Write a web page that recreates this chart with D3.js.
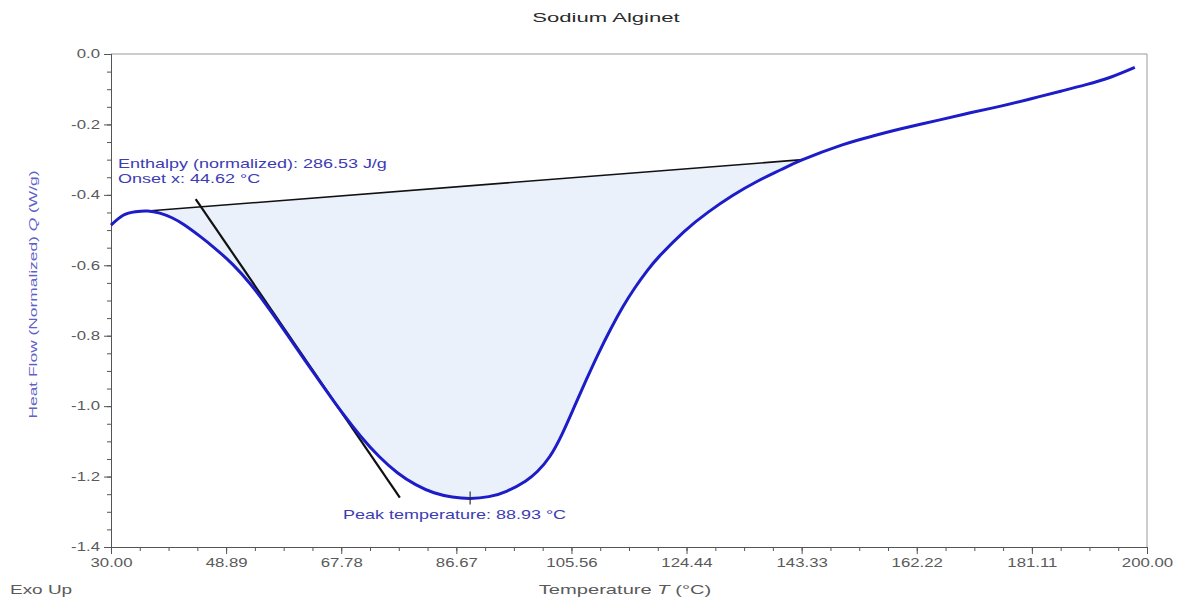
<!DOCTYPE html>
<html>
<head>
<meta charset="utf-8">
<script src="https://cdn.jsdelivr.net/npm/d3@7"></script>
<style>
  body { margin: 0; background: #fff; }
  text { font-family: "Liberation Sans", Arial, sans-serif; }
</style>
</head>
<body>
<svg id="chart" width="1183" height="599"></svg>
<script>
// DSC scan of sodium alginate: normalized heat flow vs. temperature
const temperature = [30, 32, 34, 36, 38, 40, 42, 44.62, 47, 50, 53, 56, 59, 62, 65, 68, 71, 74, 77, 80, 83, 86, 88.93,
                     92, 95, 98, 100, 102, 104, 106, 108, 110, 112, 114, 116, 118, 120, 124, 128, 132, 136, 140, 143.5,
                     150, 155, 160, 166, 171, 176, 181, 186, 190, 194, 198];
const heatFlow = [-0.486, -0.458, -0.448, -0.446, -0.452, -0.465, -0.485, -0.518, -0.551, -0.598, -0.656, -0.725, -0.799,
                  -0.874, -0.948, -1.02, -1.086, -1.143, -1.189, -1.223, -1.246, -1.258, -1.262,
                  -1.257, -1.241, -1.213, -1.185, -1.143, -1.08, -1.003, -0.925, -0.85, -0.781, -0.718, -0.663, -0.615,
                  -0.574, -0.505, -0.449, -0.402, -0.362, -0.328, -0.3,
                  -0.258, -0.233, -0.211, -0.187, -0.167, -0.148, -0.127, -0.105, -0.087, -0.066, -0.038];

// Integration baseline and onset tangent (temperature, value pairs)
const baselineT = [36, 143.5];
const baselineV = [-0.446, -0.3];
const tangentT = [43.9, 77.4];
const tangentV = [-0.412, -1.26];

const onsetT = 44.62;
const peakT = 88.93;
const peakV = -1.262;
const enthalpy = 286.53;

const xTickLabels = ["30.00", "48.89", "67.78", "86.67", "105.56", "124.44", "143.33", "162.22", "181.11", "200.00"];
const yTickLabels = ["0.0", "-0.2", "-0.4", "-0.6", "-0.8", "-1.0", "-1.2", "-1.4"];

const svg = d3.select("#chart");
const plot = { left: 111, right: 1147, top: 54, bottom: 547 };
const SX = 1.4; // horizontal stretch of the lettering

const x = d3.scaleLinear().domain([30, 200]).range([plot.left, plot.right]);
const y = d3.scaleLinear().domain([-1.4, 0]).range([plot.bottom, plot.top]);

const axisColor = "#555";
const labelColor = "#5a5a5a";
const blueText = "#3c3cb4";
const smooth = d3.curveNatural;

// shaded enthalpy region between curve and baseline
const baseAt = t => baselineV[0] + (t - baselineT[0]) * (baselineV[1] - baselineV[0]) / (baselineT[1] - baselineT[0]);
const region = temperature.map((t, i) => ({ t, v: heatFlow[i] }))
  .filter(d => d.t >= baselineT[0] && d.t <= baselineT[1]);
svg.append("path")
  .datum(region)
  .attr("d", d3.area().x(d => x(d.t)).y0(d => y(baseAt(d.t))).y1(d => y(d.v)).curve(smooth))
  .attr("fill", "#eaf1fb");

// frame: top and right edges
svg.append("line").attr("x1", plot.left).attr("x2", plot.right).attr("y1", plot.top).attr("y2", plot.top)
  .attr("stroke", "#999").attr("stroke-width", 1);
svg.append("line").attr("x1", plot.right).attr("x2", plot.right).attr("y1", plot.top).attr("y2", plot.bottom)
  .attr("stroke", "#999").attr("stroke-width", 1);

// minor ticks
const xMinor = d3.range(0, 37).map(i => 30 + i * 170 / 36);
const yMinor = d3.range(0, 29).map(i => -1.4 + i * 0.05);
const gx = svg.append("g").attr("transform", `translate(0,${plot.bottom})`);
gx.call(d3.axisBottom(x).tickValues(xMinor).tickSize(4).tickFormat(""));
const gy = svg.append("g").attr("transform", `translate(${plot.left},0)`);
gy.call(d3.axisLeft(y).tickValues(yMinor).tickSize(4).tickFormat(""));

// major ticks with labels
const xMajor = xTickLabels.map(Number);
const yMajor = yTickLabels.map(Number);
const gxM = svg.append("g").attr("transform", `translate(0,${plot.bottom})`)
  .call(d3.axisBottom(x).tickValues(xMajor).tickSize(7).tickPadding(4)
    .tickFormat((d, i) => xTickLabels[i]));
const gyM = svg.append("g").attr("transform", `translate(${plot.left},0)`)
  .call(d3.axisLeft(y).tickValues(yMajor).tickSize(7).tickPadding(4)
    .tickFormat((d, i) => yTickLabels[i]));

[gx, gy, gxM, gyM].forEach(g => {
  g.select(".domain").attr("stroke", axisColor);
  g.selectAll(".tick line").attr("stroke", axisColor);
  g.selectAll(".tick text").attr("fill", labelColor).attr("font-size", 12)
    .style("font-family", '"Liberation Sans", Arial, sans-serif');
});
gxM.selectAll(".tick text").attr("transform", `scale(${SX},1)`);
gyM.selectAll(".tick text").each(function () {
  const t = d3.select(this);
  const xx = +t.attr("x");
  t.attr("x", xx / SX).attr("transform", `scale(${SX},1)`);
});

// helper for horizontally stretched text
function label(px, py, str, opts = {}) {
  const t = svg.append("text")
    .attr("transform", `translate(${px},${py}) scale(${opts.sx || SX},1)`)
    .attr("font-size", opts.size || 12)
    .attr("fill", opts.fill || labelColor)
    .attr("text-anchor", opts.anchor || "start");
  if (opts.weight) t.attr("font-weight", opts.weight);
  return t.text(str);
}

// baseline and onset tangent
svg.append("line")
  .attr("x1", x(baselineT[0])).attr("y1", y(baselineV[0]))
  .attr("x2", x(baselineT[1])).attr("y2", y(baselineV[1]))
  .attr("stroke", "#111").attr("stroke-width", 1.6);
svg.append("line")
  .attr("x1", x(tangentT[0])).attr("y1", y(tangentV[0]))
  .attr("x2", x(tangentT[1])).attr("y2", y(tangentV[1]))
  .attr("stroke", "#111").attr("stroke-width", 2.2);

// heat flow curve
svg.append("path")
  .datum(temperature.map((t, i) => ({ t, v: heatFlow[i] })))
  .attr("d", d3.line().x(d => x(d.t)).y(d => y(d.v)).curve(smooth))
  .attr("fill", "none")
  .attr("stroke", "#1c1cc8")
  .attr("stroke-width", 3);

// peak marker
svg.append("line")
  .attr("x1", x(peakT)).attr("x2", x(peakT))
  .attr("y1", y(peakV) - 7).attr("y2", y(peakV) + 6)
  .attr("stroke", "#333").attr("stroke-width", 1.2);

// annotations
label(118, 168, `Enthalpy (normalized): ${enthalpy.toFixed(2)} J/g`, { fill: blueText, sx: 1.5 });
label(118, 183, `Onset x: ${onsetT.toFixed(2)} °C`, { fill: blueText, sx: 1.5 });
label(343, 519, `Peak temperature: ${peakT.toFixed(2)} °C`, { fill: blueText, sx: 1.5 });

// titles
label(606, 22, "Sodium Alginet", { size: 13, fill: "#2a2a2a", anchor: "middle", sx: 1.7 });
const xt = svg.append("text")
  .attr("transform", `translate(625,594) scale(1.68,1)`)
  .attr("font-size", 12).attr("fill", labelColor).attr("text-anchor", "middle");
xt.append("tspan").text("Temperature ");
xt.append("tspan").attr("font-style", "italic").text("T");
xt.append("tspan").text(" (°C)");
label(10, 594, "Exo Up", { fill: labelColor, sx: 1.58 });

const yt = svg.append("text")
  .attr("transform", `translate(37,${(plot.top + plot.bottom) / 2 - 6}) rotate(-90) scale(1.58,1)`)
  .attr("font-size", 11).attr("fill", "#6060c8").attr("text-anchor", "middle");
yt.append("tspan").text("Heat Flow (Normalized) ");
yt.append("tspan").attr("font-style", "italic").text("Q");
yt.append("tspan").text(" (W/g)");
</script>
</body>
</html>
